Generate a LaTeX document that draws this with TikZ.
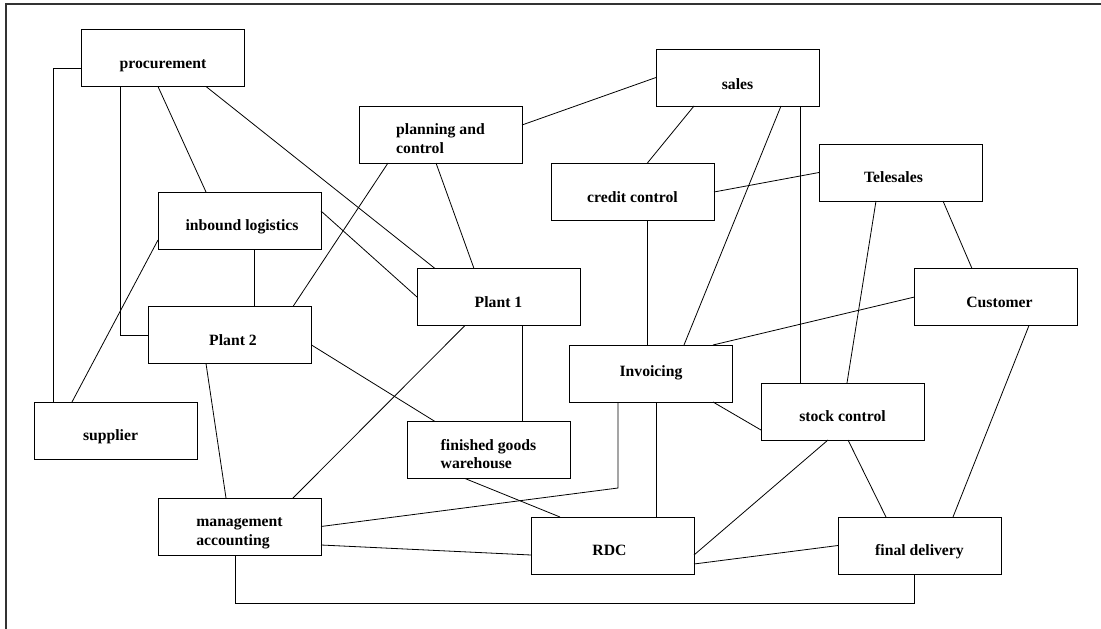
\documentclass[tikz,border=0pt]{standalone}
\usepackage{fontspec}
\setmainfont{Liberation Serif}
\tikzset{
  box/.style={draw, line width=1pt, minimum width=163pt, minimum height=57pt,
    inner sep=0pt, outer sep=0pt, fill=white,
    font=\fontsize{15.7}{18.5}\selectfont\bfseries,
    text height=20pt, text depth=0pt},
  twoline/.style={text height=0pt, text depth=0pt},
  link/.style={line width=0.8pt},
  frame/.style={line width=1.2pt, draw=black!80}
}
\newcommand{\twol}[2]{\begin{tabular}[t]{@{}l@{}}#1\\#2\end{tabular}}
\begin{document}
\begin{tikzpicture}[x=1pt,y=-1pt]
\useasboundingbox (0,0) rectangle (1101,629);
\draw[frame] (6,629) -- (6,4) -- (1101,4);

\node[box] (proc) at (163,58) {procurement};
\node[box] (inb) at (239.5,220.5) {\hspace*{5pt}inbound logistics};
\node[box,twoline] (plan) at (440.5,134.5) {\twol{planning and}{control}};
\node[box,text height=23.5pt] (sales) at (737.5,77.5) {sales};
\node[box] (credit) at (632.5,192) {credit control};
\node[box] (tele) at (900.5,172.5) {\hspace*{-14pt}Telesales};
\node[box] (cust) at (996,297) {\hspace*{7pt}Customer};
\node[box] (pl2) at (230,335) {\hspace*{6pt}Plant 2};
\node[box] (supp) at (115.5,430.5) {\hspace*{-10pt}supplier};
\node[box,twoline] (mgmt) at (239.5,526.5) {\twol{management}{accounting}};
\node[box] (pl1) at (498.5,297) {Plant 1};
\node[box,text height=5pt] (inv) at (651,373.5) {Invoicing};
\node[box,twoline] (fgw) at (488.5,450) {\twol{finished goods}{warehouse}};
\node[box] (rdc) at (612.5,545.5) {\hspace*{-6pt}RDC};
\node[box] (stock) at (842.5,411.5) {stock control};
\node[box] (final) at (919.5,545.5) {final delivery};

\begin{scope}[link]
\draw ([yshift=-10]proc.west) -| ([xshift=-62.5]supp.north);
\draw ([xshift=-43]proc.south) |- (pl2.west);
\draw ([xshift=-5]proc.south) -- ([xshift=-33.5]inb.north);
\draw ([xshift=43]proc.south) -- ([xshift=-63.5]pl1.north);
\draw ([yshift=9.5]inb.east) -- (pl1.west);
\draw ([xshift=-52.5]plan.south) -- ([xshift=63]pl2.north);
\draw ([xshift=-4.5]plan.south) -- ([xshift=-24.5]pl1.north);
\draw ([yshift=9.5]plan.east) -- (sales.west);
\draw ([xshift=14.5]inb.south) -- ([xshift=24]pl2.north);
\draw ([yshift=-19.5]inb.west) -- ([xshift=-43.5]supp.north);
\draw ([yshift=-10]pl2.east) -- ([xshift=-53.5]fgw.north);
\draw ([xshift=-24]pl2.south) -- ([xshift=-13.5]mgmt.north);
\draw ([xshift=-33.5]pl1.south) -- ([xshift=53.5]mgmt.north);
\draw ([xshift=23.5]pl1.south) -- ([xshift=33.5]fgw.north);
\draw ([xshift=-23.5]fgw.south) -- ([xshift=-52.5]rdc.north);
\draw (mgmt.east) -- ([xshift=-33,yshift=-86]inv.south) -- ([xshift=-33]inv.south);
\draw ([yshift=-18.5]mgmt.east) -- ([yshift=-9.5]rdc.west);
\draw ([xshift=-4.5]mgmt.south) -- ++(0,48) -| ([xshift=-5.5]final.south);
\draw ([xshift=5]inv.south) -- ([xshift=43.5]rdc.north);
\draw ([xshift=62]inv.south) -- ([yshift=-18.5]stock.west);
\draw ([xshift=62]inv.north) -- (cust.west);
\draw ([xshift=33]inv.north) -- ([xshift=43.5]sales.south);
\draw ([xshift=14.5]credit.south) -- ([xshift=-4]inv.north);
\draw ([xshift=14.5]credit.north) -- ([xshift=-43.5]sales.south);
\draw (credit.east) -- (tele.west);
\draw ([xshift=62.5]sales.south) -- ([xshift=-42.5]stock.north);
\draw ([xshift=-24.5]tele.south) -- ([xshift=4.5]stock.north);
\draw ([xshift=42.5]tele.south) -- ([xshift=-24]cust.north);
\draw ([xshift=33]cust.south) -- ([xshift=33.5]final.north);
\draw ([xshift=-14.5]stock.south) -- ([yshift=-9.5]rdc.east);
\draw ([xshift=5.5]stock.south) -- ([xshift=-33.5]final.north);
\draw ([yshift=-18.5]rdc.east) -- (final.west);
\end{scope}
\end{tikzpicture}
\end{document}
